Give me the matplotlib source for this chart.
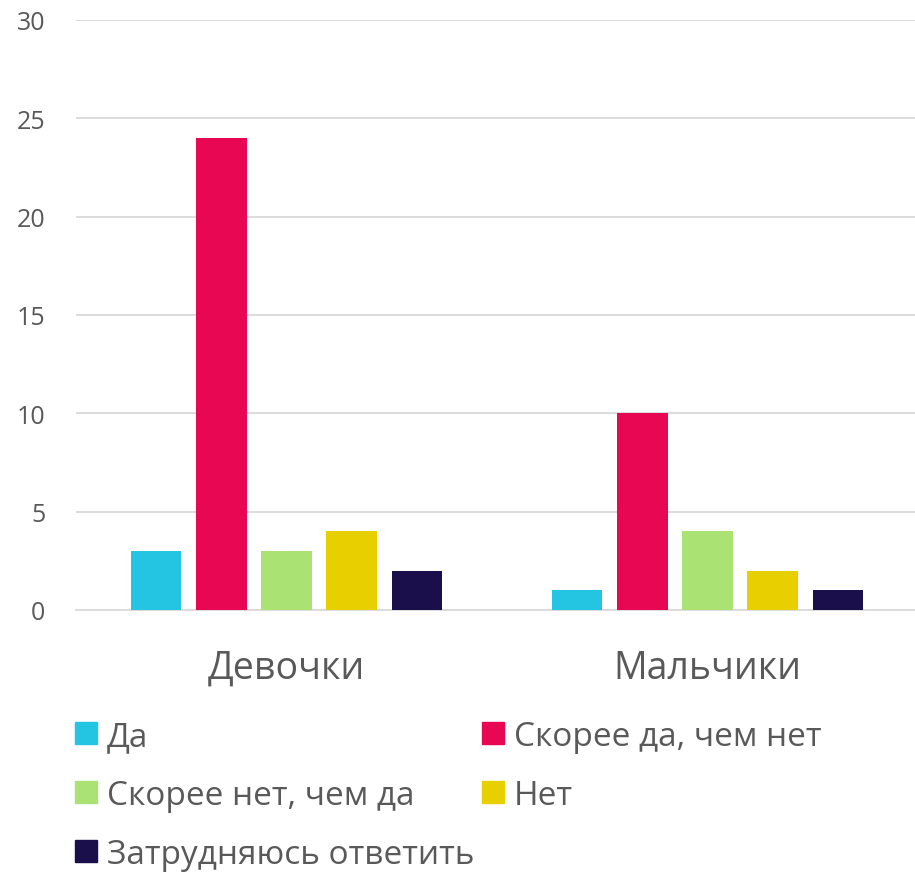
import matplotlib.pyplot as plt
import numpy as np
from matplotlib.patches import Patch

# data
groups = ['Девочки', 'Мальчики']
series = ['Да', 'Скорее да, чем нет', 'Скорее нет, чем да', 'Нет', 'Затрудняюсь ответить']
values = [
    [3, 1],
    [24, 10],
    [3, 4],
    [4, 2],
    [2, 1],
]
colors = ['#23C5E3', '#E80752', '#AAE274', '#E8D000', '#1A0F4B']
yticks = [0, 5, 10, 15, 20, 25, 30]

plt.rcParams['font.family'] = ['Open Sans', 'DejaVu Sans']
text_color = '#595959'

fig = plt.figure(figsize=(9.15, 8.78), dpi=100)
ax = fig.add_axes([76 / 915, 1 - 611 / 878, 842 / 915, 590 / 878])

x = np.arange(len(groups))
width = 0.121
step = 0.155
for i, (name, vals) in enumerate(zip(series, values)):
    ax.bar(x + (i - 2) * step, vals, width, color=colors[i], label=name, zorder=3)

ax.set_xlim(-0.5, 1.5)
ax.set_ylim(0, 30)
ax.set_yticks(yticks)
ax.grid(axis='y', color='#D9D9D9', linewidth=1.3, zorder=0)
for s in ['top', 'right', 'left']:
    ax.spines[s].set_visible(False)
ax.spines['bottom'].set_color('#D9D9D9')
ax.spines['bottom'].set_linewidth(1.3)
ax.tick_params(axis='y', length=0, pad=22, labelsize=18, labelcolor=text_color)
ax.tick_params(axis='x', length=0, pad=28, labelsize=27, labelcolor=text_color)
ax.set_xticks(x)
ax.set_xticklabels(groups)

# legend, reordered so rows read left to right
order = [0, 2, 4, 1, 3]
handles = [Patch(color=colors[i], label=series[i]) for i in order]
fig.legend(handles=handles, ncol=2, loc='upper left',
           bbox_to_anchor=(75 / 915, 1 - 721 / 878), frameon=False,
           fontsize=24, labelcolor=text_color, handlelength=0.65, handleheight=0.65,
           handletextpad=0.3, columnspacing=0.25, labelspacing=0.78, borderpad=0,
           borderaxespad=0)

fig.savefig('out.png', dpi=100)
